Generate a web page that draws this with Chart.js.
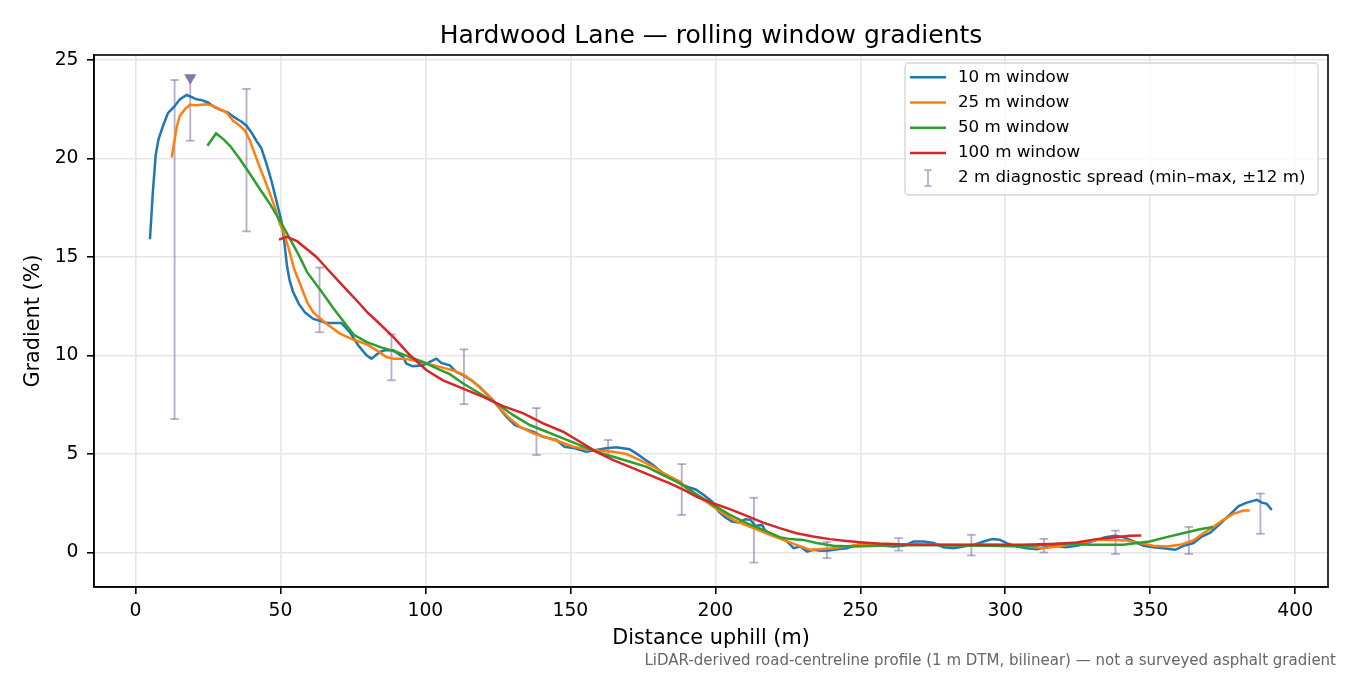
<!DOCTYPE html>
<html>
<head>
<meta charset="utf-8">
<title>Hardwood Lane gradients</title>
<script src="https://cdn.jsdelivr.net/npm/chart.js@4.4.1/dist/chart.umd.min.js"></script>
<style>
    html, body { margin: 0; padding: 0; background: #fff; }
    canvas { display: block; }
</style>
</head>
<body>
<canvas id="gradientChart" width="1350" height="675"></canvas>
<script>
// distance uphill (m) and gradient (%) for each rolling window
const dist10 = [5.0, 6.0, 7.0, 8.0, 9.5, 11.2, 13.5, 15.3, 17.6, 19.3, 21.0, 22.8, 25.0, 27.3, 29.6, 31.9, 34.2, 36.6, 38.3, 40.0,
    41.7, 43.4, 45.2, 46.9, 48.6, 50.3, 51.3, 52.3, 53.2, 54.3, 56.3, 58.4, 61.2, 65.9, 71.0, 73.9, 76.8, 79.7, 81.4, 84.3,
    86.0, 88.9, 92.3, 93.4, 95.7, 99.2, 101.5, 103.8, 105.5, 108.4, 110.7, 113.0, 115.9, 118.7, 121.0, 123.3, 125.6, 127.9, 130.8, 133.7,
    137.1, 140.6, 145.2, 148.0, 151.5, 155.5, 158.9, 162.4, 165.9, 170.4, 172.7, 175.6, 178.5, 181.9, 185.4, 188.5, 191.0, 193.2, 196.0, 198.9,
    201.1, 203.4, 205.7, 208.0, 210.3, 212.1, 213.8, 216.1, 217.2, 219.5, 222.4, 224.7, 227.0, 229.3, 231.6, 233.9, 236.2, 239.1, 241.9, 245.4,
    247.7, 250.6, 254.6, 258.0, 261.5, 264.9, 268.4, 271.8, 275.3, 278.7, 282.2, 285.6, 289.1, 292.5, 295.5, 298.0, 300.5, 304.0, 307.5, 310.9,
    313.8, 317.2, 320.7, 324.7, 328.2, 331.6, 334.5, 337.9, 340.8, 344.3, 347.7, 351.1, 354.6, 358.6, 361.5, 364.9, 367.8, 370.7, 374.1, 377.0,
    380.5, 383.3, 386.8, 388.5, 390.2, 391.9];
const grad10 = [15.9, 18.3, 20.2, 21.0, 21.65, 22.3, 22.65, 23.0, 23.22, 23.12, 23.0, 22.96, 22.84, 22.6, 22.45, 22.33, 22.08, 21.86, 21.66, 21.32,
    20.9, 20.53, 19.72, 18.87, 17.86, 16.85, 15.8, 14.5, 13.8, 13.25, 12.63, 12.2, 11.87, 11.65, 11.65, 11.19, 10.52, 10.01, 9.84, 10.18,
    10.26, 10.26, 9.92, 9.59, 9.45, 9.5, 9.67, 9.84, 9.62, 9.5, 9.16, 9.0, 8.74, 8.4, 8.07, 7.73, 7.31, 6.89, 6.47, 6.3,
    6.13, 5.87, 5.71, 5.37, 5.29, 5.11, 5.2, 5.29, 5.34, 5.24, 5.03, 4.73, 4.44, 4.02, 3.77, 3.45, 3.3, 3.2, 2.92, 2.58,
    2.08, 1.79, 1.57, 1.52, 1.69, 1.66, 1.35, 1.4, 1.11, 0.9, 0.73, 0.56, 0.22, 0.3, 0.05, 0.14, 0.09, 0.1, 0.17, 0.22,
    0.34, 0.44, 0.39, 0.34, 0.3, 0.34, 0.56, 0.56, 0.48, 0.27, 0.22, 0.3, 0.39, 0.56, 0.68, 0.65, 0.48, 0.3, 0.22, 0.17,
    0.27, 0.34, 0.27, 0.34, 0.48, 0.64, 0.78, 0.85, 0.78, 0.56, 0.34, 0.27, 0.22, 0.14, 0.34, 0.48, 0.81, 1.01, 1.45, 1.86,
    2.36, 2.53, 2.67, 2.53, 2.47, 2.16];

const dist25 = [12.5, 14.2, 15.3, 17.1, 18.8, 21.1, 24.6, 26.8, 29.1, 31.4, 33.7, 36.0, 37.8, 39.5, 41.2, 42.9, 44.7, 46.4, 48.1, 49.8,
    51.2, 52.9, 54.7, 57.0, 59.2, 61.3, 63.5, 65.9, 70.5, 75.1, 79.7, 83.2, 86.6, 88.9, 92.3, 95.8, 100.4, 105.0, 109.6, 113.0,
    115.9, 118.8, 122.2, 125.7, 129.1, 132.6, 137.2, 141.8, 146.4, 151.0, 155.6, 160.2, 164.8, 169.4, 174.0, 178.6, 183.2, 187.8, 192.3, 196.9,
    201.6, 206.2, 210.2, 214.2, 218.8, 223.4, 228.0, 232.6, 236.0, 240.6, 245.2, 249.8, 256.7, 265.0, 275.0, 285.0, 295.0, 305.0, 313.1, 317.7,
    324.6, 331.4, 337.2, 341.8, 346.4, 351.0, 355.6, 360.2, 364.8, 368.3, 371.7, 375.2, 378.6, 382.1, 384.3];
const grad25 = [20.05, 21.57, 22.16, 22.5, 22.72, 22.7, 22.75, 22.67, 22.5, 22.33, 21.91, 21.66, 21.4, 20.9, 20.22, 19.54, 18.87, 18.2, 17.52, 16.68,
    16.2, 15.41, 14.4, 13.55, 12.71, 12.2, 11.9, 11.61, 11.11, 10.81, 10.57, 10.26, 9.92, 9.84, 9.84, 9.76, 9.59, 9.42, 9.24, 9.04,
    8.74, 8.37, 7.9, 7.31, 6.8, 6.38, 6.05, 5.84, 5.62, 5.37, 5.24, 5.16, 5.11, 5.0, 4.69, 4.35, 3.93, 3.6, 2.95, 2.58,
    2.08, 1.66, 1.4, 1.18, 0.9, 0.64, 0.39, 0.14, 0.17, 0.22, 0.3, 0.39, 0.44, 0.42, 0.4, 0.38, 0.4, 0.35, 0.22, 0.3,
    0.44, 0.64, 0.64, 0.61, 0.48, 0.34, 0.3, 0.39, 0.61, 0.98, 1.29, 1.66, 1.96, 2.13, 2.13];

const dist50 = [24.8, 27.8, 30.3, 32.6, 36.0, 39.5, 42.9, 46.4, 49.8, 53.3, 56.7, 59.2, 63.9, 68.4, 71.9, 75.3, 79.8, 85.0, 90.1, 94.7,
    99.2, 103.9, 108.4, 113.0, 118.8, 124.6, 130.3, 136.0, 141.8, 147.5, 153.3, 159.0, 164.8, 170.5, 176.3, 182.0, 187.8, 193.5, 199.2, 205.0,
    210.8, 216.5, 222.2, 225.7, 230.3, 234.9, 240.6, 247.6, 256.7, 270.0, 282.0, 294.7, 306.1, 317.7, 329.1, 340.6, 349.8, 355.6, 361.3, 367.1,
    371.7];
const grad50 = [20.64, 21.27, 20.98, 20.64, 19.97, 19.21, 18.45, 17.69, 16.85, 15.92, 14.99, 14.23, 13.3, 12.37, 11.7, 11.05, 10.68, 10.4, 10.18, 9.92,
    9.67, 9.34, 9.05, 8.58, 8.07, 7.56, 6.97, 6.47, 6.13, 5.79, 5.45, 5.11, 4.86, 4.61, 4.35, 3.93, 3.51, 2.96, 2.42, 1.91,
    1.49, 1.15, 0.78, 0.68, 0.64, 0.48, 0.34, 0.3, 0.34, 0.38, 0.36, 0.34, 0.3, 0.44, 0.39, 0.39, 0.56, 0.78, 0.98, 1.18,
    1.29];

const dist100 = [49.5, 52.2, 55.7, 59.5, 62.5, 66.1, 73.0, 76.3, 79.9, 83.2, 88.9, 94.7, 100.4, 106.1, 113.0, 119.9, 126.8, 133.8, 140.6, 147.5,
    153.3, 159.0, 164.8, 170.5, 177.4, 184.3, 189.5, 193.5, 199.2, 205.0, 210.8, 216.5, 222.2, 228.0, 233.7, 239.5, 245.2, 251.0, 256.7, 268.2,
    279.7, 291.2, 306.0, 317.7, 324.6, 331.4, 338.3, 342.9, 346.9];
const grad100 = [15.88, 16.02, 15.8, 15.35, 14.99, 14.4, 13.3, 12.79, 12.2, 11.75, 10.94, 10.01, 9.25, 8.74, 8.32, 7.9, 7.43, 7.06, 6.55, 6.13,
    5.62, 5.11, 4.69, 4.35, 3.93, 3.51, 3.15, 2.84, 2.5, 2.2, 1.86, 1.52, 1.24, 0.98, 0.81, 0.68, 0.59, 0.51, 0.44, 0.39,
    0.39, 0.39, 0.39, 0.44, 0.51, 0.68, 0.78, 0.85, 0.86];

// 2 m diagnostic spread, min and max over +-12 m
const spreadDist = [13.5, 18.9, 38.3, 63.5, 88.3, 113.3, 138.3, 163.0, 188.4, 213.3, 238.5, 263.2, 288.3, 313.3, 338.0, 363.3, 388.0];
const spreadMin = [6.77, 20.9, 16.3, 11.18, 8.74, 7.53, 4.95, 4.91, 1.91, -0.51, -0.28, 0.1, -0.15, 0.0, -0.07, -0.07, 0.95];
const spreadMax = [23.98, 24.1, 23.53, 14.46, 11.07, 10.31, 7.33, 5.71, 4.49, 2.78, 0.53, 0.73, 0.9, 0.69, 1.11, 1.3, 2.99];

const peakDist = [18.9];
const peakGrad = [24.1];

const seriesLabels = ["10 m window", "25 m window", "50 m window", "100 m window"];
const seriesColors = ["#1f77b4", "#ff7f0e", "#2ca02c", "#d62728"];
const spreadLabel = "2 m diagnostic spread (min\u2013max, \u00b112 m)";
const spreadColor = "rgba(123, 104, 166, 0.55)";
const peakColor = "#8677a8";

const FONT = "'DejaVu Sans', 'Liberation Sans', sans-serif";

function toPoints(xs, ys) {
    return xs.map((x, i) => ({x: x, y: ys[i]}));
}

// each spread is a two point segment, separated by a gap
const spreadPoints = [];
spreadDist.forEach((x, i) => {
    spreadPoints.push({x: x, y: spreadMin[i]});
    spreadPoints.push({x: x, y: spreadMax[i]});
    spreadPoints.push({x: x, y: null});
});

const lineSets = [[dist10, grad10], [dist25, grad25], [dist50, grad50], [dist100, grad100]].map((s, i) => ({
    label: seriesLabels[i],
    data: toPoints(s[0], s[1]),
    borderColor: seriesColors[i],
    borderWidth: 2.5,
    pointRadius: 0,
    tension: 0,
    order: 4 - i
}));

const decorPlugin = {
    id: "decor",
    afterDatasetsDraw(chart) {
        const {ctx, chartArea} = chart;
        ctx.save();
        ctx.strokeStyle = "#000";
        ctx.lineWidth = 1.6;
        ctx.strokeRect(chartArea.left, chartArea.top, chartArea.right - chartArea.left, chartArea.bottom - chartArea.top);
        ctx.restore();
    },
    afterDraw(chart) {
        const {ctx, chartArea} = chart;
        ctx.save();

        // title
        ctx.fillStyle = "#000";
        ctx.font = "25px " + FONT;
        ctx.textAlign = "center";
        ctx.textBaseline = "alphabetic";
        ctx.fillText("Hardwood Lane \u2014 rolling window gradients", (chartArea.left + chartArea.right) / 2, chartArea.top - 12.5);

        // footnote
        ctx.fillStyle = "#666";
        ctx.font = "15px " + FONT;
        ctx.textAlign = "right";
        ctx.fillText("LiDAR-derived road-centreline profile (1 m DTM, bilinear) \u2014 not a surveyed asphalt gradient", 1336, 665);

        // legend
        const bw = 413, bh = 132;
        const bx = chartArea.right - 10 - bw;
        const by = chartArea.top + 8;
        ctx.beginPath();
        ctx.roundRect(bx, by, bw, bh, 4);
        ctx.fillStyle = "rgba(255,255,255,0.8)";
        ctx.fill();
        ctx.strokeStyle = "#d6d6d6";
        ctx.lineWidth = 1.4;
        ctx.stroke();

        ctx.font = "16.7px " + FONT;
        ctx.textAlign = "left";
        ctx.textBaseline = "middle";
        const rowY = i => by + 14.3 + i * 25.2;
        seriesLabels.forEach((label, i) => {
            const y = rowY(i);
            ctx.strokeStyle = seriesColors[i];
            ctx.lineWidth = 2.5;
            ctx.beginPath();
            ctx.moveTo(bx + 5, y);
            ctx.lineTo(bx + 41, y);
            ctx.stroke();
            ctx.fillStyle = "#000";
            ctx.fillText(label, bx + 53, y);
        });
        const ey = rowY(4);
        const ex = bx + 23;
        ctx.strokeStyle = spreadColor;
        ctx.lineWidth = 1.8;
        ctx.beginPath();
        ctx.moveTo(ex, ey - 8); ctx.lineTo(ex, ey + 8);
        ctx.moveTo(ex - 3.5, ey - 8); ctx.lineTo(ex + 3.5, ey - 8);
        ctx.moveTo(ex - 3.5, ey + 8); ctx.lineTo(ex + 3.5, ey + 8);
        ctx.stroke();
        ctx.fillStyle = "#000";
        ctx.fillText(spreadLabel, bx + 53, ey);

        ctx.restore();
    }
};

const ctx = document.getElementById("gradientChart").getContext("2d");
const chart = new Chart(ctx, {
    type: "line",
    data: {
        datasets: [
            ...lineSets,
            {
                label: spreadLabel,
                data: spreadPoints,
                borderColor: spreadColor,
                borderWidth: 1.8,
                spanGaps: false,
                pointStyle: "line",
                pointRadius: 4.3,
                pointBorderWidth: 1.8,
                pointBorderColor: spreadColor,
                order: 6
            },
            {
                label: "peak",
                data: toPoints(peakDist, peakGrad),
                showLine: false,
                pointStyle: "triangle",
                rotation: 180,
                pointRadius: 7,
                pointBackgroundColor: peakColor,
                pointBorderColor: peakColor,
                pointBorderWidth: 0,
                order: 0
            }
        ]
    },
    options: {
        responsive: false,
        animation: false,
        devicePixelRatio: 1,
        layout: {padding: {top: 55, right: 22, left: 0, bottom: 0}},
        plugins: {
            legend: {display: false},
            tooltip: {enabled: false},
            title: {display: false}
        },
        scales: {
            x: {
                type: "linear",
                min: -14.3,
                max: 411.3,
                afterFit: scale => { scale.height = 88; },
                ticks: {
                    stepSize: 50,
                    includeBounds: false,
                    color: "#000",
                    padding: 6,
                    maxRotation: 0,
                    font: {family: FONT, size: 18.75}
                },
                grid: {color: "#e6e6e6", lineWidth: 1.6, tickColor: "#000", tickLength: 7, tickWidth: 1.6},
                border: {display: true, color: "#000", width: 1.6},
                title: {
                    display: true,
                    text: "Distance uphill (m)",
                    color: "#000",
                    font: {family: FONT, size: 20.8},
                    padding: {top: 0, bottom: 24}
                }
            },
            y: {
                min: -1.75,
                max: 25.25,
                afterFit: scale => { scale.width = 94; },
                ticks: {
                    stepSize: 5,
                    includeBounds: false,
                    color: "#000",
                    padding: 8.5,
                    font: {family: FONT, size: 18.75}
                },
                grid: {color: "#e6e6e6", lineWidth: 1.6, tickColor: "#000", tickLength: 7, tickWidth: 1.6},
                border: {display: true, color: "#000", width: 1.6},
                title: {
                    display: true,
                    text: "Gradient (%)",
                    color: "#000",
                    font: {family: FONT, size: 20.8},
                    padding: {top: 21, bottom: 0}
                }
            }
        }
    },
    plugins: [decorPlugin]
});
</script>
</body>
</html>
